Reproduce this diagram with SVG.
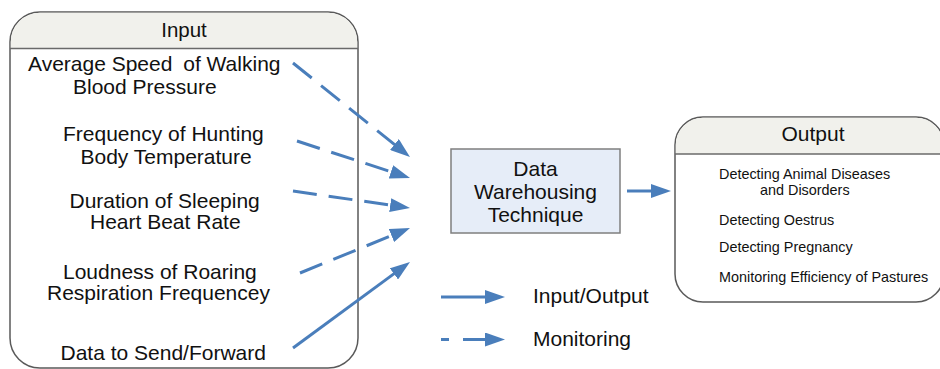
<svg xmlns="http://www.w3.org/2000/svg" width="940" height="369" viewBox="0 0 940 369">
<style>
.frame{fill:#ffffff;stroke:#5a5a5a;stroke-width:1.5}
.head{fill:#f1f1ec;stroke:none}
.sep{stroke:#6a6a6a;stroke-width:1.5}
.t{font-family:"Liberation Sans",Arial,sans-serif;fill:#111}
.big{font-size:21px}
.sm{font-size:14.4px}
.conn{stroke:#4a7ebb;stroke-width:3;fill:none}
.dash{stroke-dasharray:24 12}
</style>
<defs>
<marker id="ah" markerUnits="userSpaceOnUse" markerWidth="20" markerHeight="14" refX="2" refY="7" orient="auto">
<path d="M0,0 L20,7 L0,14 Z" fill="#4a7ebb"/>
</marker>
</defs>
<rect width="940" height="369" fill="#ffffff"/>
<g id="input">
<rect class="frame" x="10" y="12" width="348" height="356" rx="30" ry="30"/>
<path class="head" d="M10.8,48.5 V42 A29.2,29.2 0 0 1 40,12.8 H328 A29.2,29.2 0 0 1 357.2,42 V48.5 Z"/>
<line class="sep" x1="10" y1="48.5" x2="358" y2="48.5"/>
<text class="t" x="184" y="37" font-size="20.5" text-anchor="middle">Input</text>
<text class="t big" x="28" y="70.5">Average Speed <tspan dx="5">of Walking</tspan></text>
<text class="t big" x="73" y="94">Blood Pressure</text>
<text class="t big" x="63" y="140.5">Frequency of Hunting</text>
<text class="t big" x="80.5" y="164">Body Temperature</text>
<text class="t big" x="69.5" y="208">Duration of Sleeping</text>
<text class="t big" x="90" y="229">Heart Beat Rate</text>
<text class="t big" x="63" y="278.5">Loudness of Roaring</text>
<text class="t big" x="47" y="300">Respiration Frequencey</text>
<text class="t big" x="60.5" y="360">Data to Send/Forward</text>
</g>
<g id="dwt">
<rect x="451" y="149" width="169" height="84" fill="#e6edf8" stroke="#7f7f7f" stroke-width="1.5"/>
<text class="t big" x="535.5" y="176" text-anchor="middle">Data</text>
<text class="t big" x="535.5" y="198.5" text-anchor="middle">Warehousing</text>
<text class="t big" x="535.5" y="221.5" text-anchor="middle">Technique</text>
</g>
<g id="output">
<rect class="frame" x="675" y="117" width="269" height="185" rx="28" ry="28"/>
<path class="head" d="M675.8,154 V145 A27.2,27.2 0 0 1 703,117.8 H916 A27.2,27.2 0 0 1 943.2,145 V154 Z"/>
<line class="sep" x1="675" y1="154" x2="944" y2="154"/>
<text class="t big" x="813" y="140.5" text-anchor="middle">Output</text>
<text class="t sm" x="719" y="178.5">Detecting Animal Diseases</text>
<text class="t sm" x="760" y="195">and Disorders</text>
<text class="t sm" x="719" y="225">Detecting Oestrus</text>
<text class="t sm" x="719" y="251.5">Detecting Pregnancy</text>
<text class="t sm" x="719" y="281.5">Monitoring Efficiency of Pastures</text>
</g>
<g id="legend">
<line class="conn" x1="441" y1="297" x2="487" y2="297" marker-end="url(#ah)"/>
<line class="conn" x1="441" y1="339.5" x2="487" y2="339.5" stroke-dasharray="8 14 100" marker-end="url(#ah)"/>
<text class="t big" x="533" y="303">Input/Output</text>
<text class="t big" x="533" y="345.5">Monitoring</text>
</g>
<g id="connectors">
<line class="conn dash" x1="293" y1="63" x2="395.97" y2="145.73" marker-end="url(#ah)"/>
<line class="conn dash" x1="297" y1="141" x2="392.89" y2="172.4" marker-end="url(#ah)"/>
<line class="conn dash" x1="293" y1="191" x2="392.18" y2="205.41" marker-end="url(#ah)"/>
<line class="conn dash" x1="300" y1="273" x2="393.34" y2="234.82" marker-end="url(#ah)"/>
<line class="conn" x1="293" y1="348" x2="395.5" y2="272.66" marker-end="url(#ah)"/>
<line class="conn" x1="627" y1="191" x2="653" y2="191" marker-end="url(#ah)"/>
</g>
</svg>
